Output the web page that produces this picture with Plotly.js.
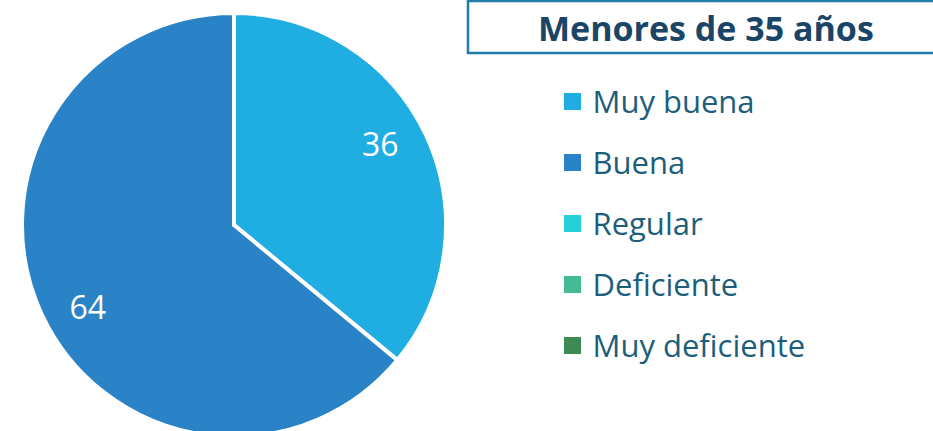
<!DOCTYPE html>
<html>
<head>
<meta charset="utf-8">
<script src="https://cdn.plot.ly/plotly-3.0.1.min.js"></script>
<style>
html,body{margin:0;padding:0;overflow:hidden;background:#fff;}
#chart{width:933px;height:440px;}
</style>
</head>
<body>
<div id="chart"></div>
<script>
// Data
const categories = ["Muy buena", "Buena", "Regular", "Deficiente", "Muy deficiente"];
const values = [36, 64, 0, 0, 0];
const sliceColors = ["#1FADE2", "#2A83C6", "#27CFD9", "#43BB97", "#3E8A55"];
const chartTitle = "Menores de 35 años";

const W = 933, H = 440;
const FONT = "'Open Sans', 'Noto Sans', sans-serif";
const legendTextColor = "#1D5E7B";
const pieDomain = {x: [22 / W, 446 / W], y: [3 / H, 427 / H]};

// Filled slices (legend comes from these)
const pieTrace = {
  type: "pie",
  labels: categories.map(c => '<span style="font-size:31px;baseline-shift:6px">' + c + '</span>'),
  values: values,
  sort: false,
  direction: "clockwise",
  rotation: 0,
  marker: {colors: sliceColors, line: {color: "#ffffff", width: 4}},
  textinfo: "none",
  hoverinfo: "label+value",
  domain: pieDomain
};

// Transparent overlay with the same values, used only to place the value labels in the outer part of each slice
const labelTrace = {
  type: "pie",
  labels: categories.map(c => c + " (etiqueta)"),
  values: values,
  sort: false,
  direction: "clockwise",
  rotation: -4,
  hole: 0.58,
  showlegend: false,
  marker: {colors: categories.map(() => "rgba(0,0,0,0)"), line: {width: 0}},
  textinfo: "value",
  textposition: "inside",
  insidetextorientation: "horizontal",
  textfont: {family: FONT, size: 32, color: "#ffffff"},
  hoverinfo: "skip",
  domain: pieDomain
};

const layout = {
  width: W, height: H,
  margin: {l: 0, r: 0, t: 0, b: 0},
  paper_bgcolor: "#ffffff",
  showlegend: true,
  legend: {
    x: 552.5 / W, xanchor: "left",
    y: (H - 66) / H, yanchor: "top",
    font: {family: FONT, size: 44.6, color: legendTextColor},
    bgcolor: "rgba(0,0,0,0)",
    borderwidth: 0
  },
  shapes: [{
    type: "rect", xref: "paper", yref: "paper",
    x0: 468 / W, x1: 1.02, y0: (H - 53) / H, y1: (H - 1) / H,
    line: {color: "#1F7DAA", width: 2.5},
    fillcolor: "rgba(0,0,0,0)"
  }],
  annotations: [{
    xref: "paper", yref: "paper",
    x: 706 / W, y: (H - 28) / H, xanchor: "center", yanchor: "middle",
    text: "<b>" + chartTitle + "</b>", showarrow: false,
    font: {family: FONT, size: 34, color: "#1B4566"}
  }]
};

Plotly.newPlot("chart", [pieTrace, labelTrace], layout, {displayModeBar: false, staticPlot: true}).then(function () {
  document.querySelectorAll("path.legendpie").forEach(function (p) {
    p.setAttribute("d", "M8.5,8.5H-8.5V-8.5H8.5Z");
    p.style.strokeWidth = "0";
  });
});
</script>
</body>
</html>
